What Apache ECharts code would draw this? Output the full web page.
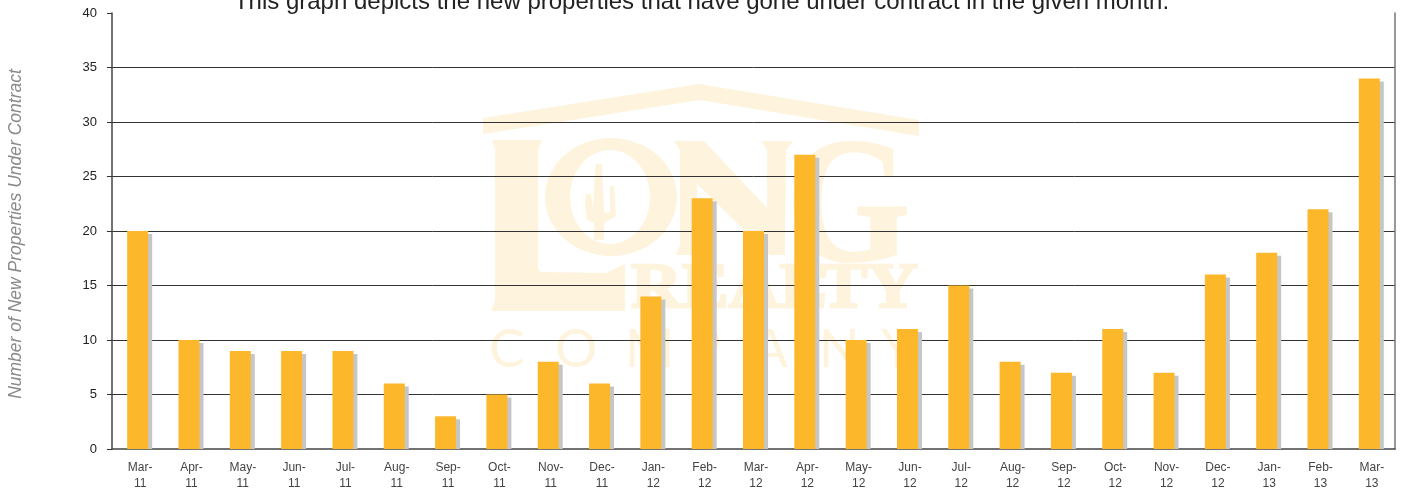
<!DOCTYPE html>
<html>
<head>
<meta charset="utf-8">
<style>html,body{margin:0;padding:0;background:#fff}#c{width:1403px;height:493px}</style>
<script src="https://cdn.jsdelivr.net/npm/echarts@6/dist/echarts.min.js"></script>
</head>
<body>
<div id="c"></div>
<script>
const categories = ["Mar-\n11","Apr-\n11","May-\n11","Jun-\n11","Jul-\n11","Aug-\n11","Sep-\n11","Oct-\n11","Nov-\n11","Dec-\n11","Jan-\n12","Feb-\n12","Mar-\n12","Apr-\n12","May-\n12","Jun-\n12","Jul-\n12","Aug-\n12","Sep-\n12","Oct-\n12","Nov-\n12","Dec-\n12","Jan-\n13","Feb-\n13","Mar-\n13"];
const contracts = [20,10,9,9,9,6,3,5,8,6,14,23,20,27,10,11,15,8,7,11,7,16,18,22,34];
const titleText = "This graph depicts the new properties that have gone under contract in the given month.";
const yAxisTitle = "Number of New Properties Under Contract";

const WM = '#fef3dc';
const BARW = 21;
const poly = (points) => ({type:'polygon', z:-10, silent:true, shape:{points}, style:{fill:WM}});
const ell = (cx,cy,rx,ry,fill) => ({type:'ellipse', z:-10, silent:true, shape:{cx,cy,rx,ry}, style:{fill}});
const txt = (x,y,text,font,sx,sw) => ({type:'text', z:-10, silent:true, x, y, scaleX:sx||1, style:{text, font, fill:WM, stroke:WM, lineWidth:sw||0, textVerticalAlign:'top'}});
const companyLetters = [['C',489],['O',555],['M',625],['P',689],['A',752],['N',819],['Y',881]];
const watermark = [
  poly([[483,118],[699,84],[919,120],[919,136],[700,100],[483,134]]),
  // L
  poly([[492,140],[542,140],[538,150],[538,269],[541,272],[606,273],[625,264],[625,311],[491,311],[495,300],[495,149]]),
  // O with cactus
  ell(611,197,66,59,WM), ell(610,197,40,47,'#fff'),
  poly([[596,164],[602,164],[604,212],[606,213],[610,212],[610,186],[614,186],[616,216],[604,223],[604,240],[594,240],[594,223],[587,220],[585,205],[586,194],[591,194],[593,208],[595,170]]),
  // N
  poly([[674,141],[704,141],[767,208],[767,150],[761,141],[793,141],[786,150],[785,255],[770,255],[697,184],[697,245],[702,255],[676,255],[680,245],[680,150]]),
  // G
  txt(787,125,'G','bold 178px "Liberation Serif"',0.89,2),
  // REALTY
  txt(631,258,'REALTY','bold 64px "Liberation Serif"',1.1,2.5),
  ...companyLetters.map(([c,x]) => txt(x,323,c,'400 53px "Lato"',1))
];

const chart = echarts.init(document.getElementById('c'));
chart.setOption({
  animation:false,
  backgroundColor:'#fff',
  title:{text:titleText,left:'center',top:-15,textStyle:{fontFamily:'"Liberation Sans"',fontSize:24,fontWeight:'normal',color:'#222'}},
  graphic:{elements:watermark},
  grid:{left:112,right:8,top:13,bottom:44,outerBoundsMode:'none'},
  xAxis:{type:'category',data:categories,boundaryGap:true,
    axisLine:{lineStyle:{color:'#444',width:1.5}},
    axisTick:{alignWithLabel:false,length:5,lineStyle:{color:'#333',width:1}},
    axisLabel:{interval:0,color:'#444',fontFamily:'"Liberation Sans"',fontSize:12,lineHeight:16,margin:11,padding:[0,0,0,5]}},
  yAxis:[{type:'value',min:0,max:40,interval:5,
    name:yAxisTitle,nameLocation:'middle',nameGap:87,nameRotate:90,
    nameTextStyle:{color:'#8a8a8a',fontStyle:'italic',fontFamily:'"Liberation Sans"',fontSize:17.5,padding:[0,6,0,0]},
    axisLine:{show:true,lineStyle:{color:'#444',width:1.5}},
    axisTick:{show:true,length:5,lineStyle:{color:'#333',width:1}},
    axisLabel:{color:'#222',fontFamily:'"Liberation Sans"',fontSize:13,margin:15},
    splitLine:{show:true,showMinLine:false,showMaxLine:false,lineStyle:{color:'#333',width:1}}},
   {type:'value',min:0,max:40,interval:5,position:'right',
    axisLine:{show:true,lineStyle:{color:'#777',width:1.5}},
    axisTick:{show:false},axisLabel:{show:false},splitLine:{show:false}}],
  series:[
    {type:'custom',clip:true,z:2,data:contracts,
     renderItem:(p,api)=>{
       const top=api.coord([api.value(0),api.value(1)]);
       const base=api.coord([api.value(0),0]);
       return {type:'rect',shape:{x:top[0]-BARW/2+4,y:top[1]+3,width:BARW,height:base[1]-top[1]-3},style:{fill:'#c6c6c6'}};
     },
     encode:{x:0,y:1}},
    {type:'bar',z:3,data:contracts,barWidth:BARW,barGap:'-100%',itemStyle:{color:'#fdb72a'}}
  ]
});
</script>
</body>
</html>
